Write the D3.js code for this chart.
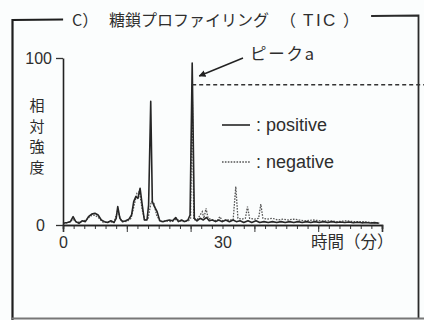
<!DOCTYPE html>
<html>
<head>
<meta charset="utf-8">
<script src="https://cdn.jsdelivr.net/npm/d3@7"></script>
<style>
  html, body { margin: 0; padding: 0; background: #fbfdfd; }
  svg { display: block; }
  text { fill: #2e2e2e; }
</style>
</head>
<body>
<svg id="chart" width="424" height="320"></svg>
<script>
// Total ion chromatogram of released glycans, positive and negative mode.
// Each trace: [retention time (min), relative intensity (%)]
const positiveTrace = [
  [0.0, 1.0], [0.8, 1.5], [1.4, 2.0], [1.9, 5.0], [2.4, 2.0], [3.0, 1.0],
  [3.6, 2.5], [4.2, 2.0], [4.8, 5.0], [5.4, 6.5], [6.0, 7.0], [6.6, 6.0],
  [7.2, 3.0], [7.8, 2.0], [8.4, 1.5], [9.0, 2.5], [9.6, 1.5], [10.0, 4.0],
  [10.3, 11.0], [10.7, 4.0], [11.2, 2.0], [11.8, 2.5], [12.4, 3.5], [12.9, 6.0],
  [13.3, 14.0], [13.7, 17.0], [14.1, 16.0], [14.5, 22.0], [14.9, 12.0],
  [15.3, 3.0], [15.8, 3.0], [16.1, 12.0], [16.5, 74.0], [16.8, 14.0],
  [17.2, 11.0], [17.7, 8.0], [18.2, 2.5], [18.8, 2.0], [19.4, 2.5], [20.0, 3.0],
  [20.6, 2.5], [21.2, 4.5], [21.7, 2.0], [22.3, 3.0], [22.9, 2.0], [23.5, 3.0],
  [23.9, 6.0], [24.3, 97.0], [24.7, 4.0], [25.2, 2.5], [25.8, 4.0], [26.4, 3.0],
  [27.0, 4.5], [27.5, 2.5], [28.1, 3.0], [28.7, 2.0], [29.3, 3.0], [29.9, 2.0],
  [30.6, 3.0], [31.3, 2.0], [32.0, 3.0], [32.6, 2.0], [33.3, 2.5], [34.0, 1.5],
  [34.8, 2.5], [35.5, 1.5], [36.3, 2.5], [37.0, 1.5], [37.8, 2.0], [38.6, 1.5],
  [39.4, 2.0], [40.2, 1.5], [41.0, 2.0], [41.8, 1.5], [42.6, 2.0], [43.4, 1.5],
  [44.2, 2.0], [45.0, 1.5], [45.8, 2.0], [46.6, 1.5], [47.4, 2.0], [48.2, 1.5],
  [49.0, 2.0], [49.8, 1.5], [50.6, 2.0], [51.4, 1.5], [52.2, 1.8], [53.0, 1.5],
  [53.8, 1.8], [54.6, 1.3], [55.4, 1.6], [56.2, 1.3], [57.0, 1.5], [57.8, 1.2],
  [58.6, 1.4], [59.4, 1.0]
];
const negativeTrace = [
  [0.0, 0.8], [1.0, 1.5], [1.9, 3.5], [2.6, 1.5], [3.4, 2.0], [4.4, 3.0],
  [5.2, 5.5], [6.0, 6.0], [6.8, 4.0], [7.6, 1.5], [8.6, 2.0], [9.6, 1.5],
  [10.3, 9.0], [10.9, 2.5], [12.0, 2.0], [12.8, 4.0], [13.4, 12.0], [13.9, 19.0],
  [14.4, 20.0], [14.9, 9.0], [15.4, 2.5], [16.0, 4.0], [16.6, 14.0], [17.1, 13.0],
  [17.6, 6.0], [18.3, 2.0], [19.3, 2.5], [20.4, 2.0], [21.3, 3.5], [22.4, 2.0],
  [23.6, 2.5], [24.0, 4.0], [24.3, 84.0], [24.6, 3.0], [25.3, 3.5], [25.8, 6.0],
  [26.2, 8.0], [26.5, 4.0], [26.9, 10.0], [27.3, 4.0], [28.2, 3.0], [29.0, 2.5],
  [29.5, 5.0], [30.0, 2.5], [31.0, 3.0], [32.0, 3.0], [32.5, 23.0], [32.9, 4.0],
  [33.6, 3.5], [34.3, 4.0], [34.7, 11.0], [35.1, 4.0], [36.0, 3.5], [36.8, 4.0],
  [37.2, 12.5], [37.6, 4.0], [38.4, 3.5], [39.4, 4.0], [40.4, 3.0], [41.4, 3.5],
  [42.4, 3.0], [43.4, 3.5], [44.4, 3.0], [45.6, 2.5], [47.0, 3.0], [48.4, 2.5],
  [50.0, 2.5], [51.6, 2.0], [53.2, 2.5], [54.8, 2.0], [56.4, 2.0], [58.0, 1.5],
  [59.6, 1.2]
];
// Off-scale guide for the negative-mode level of the labelled peak
const negGuide = [[24.3, 84], [68.0, 84]];

const xMajorTicks = [0, 12, 24, 36, 48, 60];
const xMinorTicks = d3.range(0, 61, 2);
const xLabelTicks = [0, 30];
const yTicks = [0, 100];

const titleParts = ["C）", "糖鎖プロファイリング", "（", "TIC", "）"];
const xAxisTitle = "時間（分）";
const yAxisTitle = ["相", "対", "強", "度"];
const peakLabel = "ピークa";
const peakTime = 24.3, peakValue = 97;
const legendItems = [
  { label: ": positive", style: "solid" },
  { label: ": negative", style: "dotted" }
];

const latin = "'Liberation Sans', Arial, Helvetica, sans-serif";
const cjk = "'Noto Sans CJK JP', 'Noto Sans CJK SC', sans-serif";

const svg = d3.select("#chart");
const x = d3.scaleLinear().domain([0, 60]).range([63, 382]);
const y = d3.scaleLinear().domain([0, 100]).range([225, 58]);

// Outer frame broken by the panel title
const frame = svg.append("g").attr("fill", "none").attr("stroke-linecap", "square");
frame.append("path").attr("d", "M12.5,320 L12.5,20 L62,19.5").attr("stroke", "#1e1e1e").attr("stroke-width", 2.2);
frame.append("path").attr("d", "M372,16 L418.5,15.5 L418.5,318").attr("stroke", "#2a2a2a").attr("stroke-width", 1.8);
frame.append("path").attr("d", "M12,318.5 L424,318.5").attr("stroke", "#777").attr("stroke-width", 2);

// Panel title, set in runs with the spacing of the printed heading
const title = svg.append("text")
  .attr("y", 26)
  .style("font-family", cjk).style("font-size", "16px");
const titleRuns = [
  { x: 72, spacing: 0 },
  { x: 109, spacing: 0 },
  { x: 280, spacing: 0 },
  { x: 303, spacing: 2.5, family: latin, size: "17px" },
  { x: 343, spacing: 0 }
];
titleParts.forEach((part, i) => {
  const run = titleRuns[i];
  const ts = title.append("tspan").attr("x", run.x).style("letter-spacing", run.spacing + "px").text(part);
  if (run.family) ts.style("font-family", run.family).style("font-size", run.size);
});

// Axes
const xAxisG = svg.append("g").attr("transform", `translate(0,${y(0)})`);
xAxisG.append("g").call(d3.axisBottom(x).tickValues(xMinorTicks).tickSize(4).tickFormat(""));
xAxisG.append("g").call(d3.axisBottom(x).tickValues(xMajorTicks).tickSize(7).tickFormat(""));
xAxisG.append("g").call(d3.axisBottom(x).tickValues(xLabelTicks).tickSize(0).tickPadding(12).tickFormat(d3.format("d")))
  .call(g => g.select(".domain").remove());
xAxisG.selectAll("path.domain").attr("stroke", "#222").attr("stroke-width", 1.6);
xAxisG.selectAll(".tick line").attr("stroke", "#333").attr("stroke-width", 1);
xAxisG.selectAll("text").style("font-family", latin).style("font-size", "16px").attr("fill", "#2e2e2e");

const yAxisG = svg.append("g").attr("transform", `translate(${x(0)},0)`);
yAxisG.call(d3.axisLeft(y).tickValues(yTicks).tickSize(7).tickPadding(4).tickSizeOuter(0).tickFormat(d3.format("d")));
yAxisG.select(".domain").attr("stroke", "#222").attr("stroke-width", 1.6);
yAxisG.selectAll(".tick line").attr("stroke", "#333").attr("stroke-width", 1.3);
yAxisG.selectAll("text").style("font-family", latin).style("font-size", "16px").attr("fill", "#2e2e2e")
  .attr("dx", d => d === 0 ? -7 : 0);

svg.append("text")
  .attr("x", 311).attr("y", 248)
  .style("font-family", cjk).style("font-size", "16.5px")
  .text(xAxisTitle);

svg.append("g").selectAll("text").data(yAxisTitle).join("text")
  .attr("x", 37).attr("y", (d, i) => 111 + i * 20.5)
  .attr("text-anchor", "middle")
  .style("font-family", cjk).style("font-size", "15px")
  .text(d => d);

// Traces
const line = d3.line().x(d => x(d[0])).y(d => y(d[1]));
svg.append("path").datum(negativeTrace)
  .attr("d", line).attr("fill", "none")
  .attr("stroke", "#555").attr("stroke-width", 1.3).attr("stroke-dasharray", "1.6,1.3");
svg.append("path").datum(positiveTrace)
  .attr("d", line).attr("fill", "none")
  .attr("stroke", "#262626").attr("stroke-width", 1.6).attr("stroke-linejoin", "round");
svg.append("path").datum(negGuide)
  .attr("d", line).attr("fill", "none")
  .attr("stroke", "#333").attr("stroke-width", 1.4).attr("stroke-dasharray", "4,3");

// Peak annotation
const tipX = x(peakTime) + 7, tipY = y(peakValue) + 13;
svg.append("defs").append("marker")
  .attr("id", "arrowhead").attr("viewBox", "0 0 10 10")
  .attr("refX", 9).attr("refY", 5).attr("markerWidth", 7).attr("markerHeight", 7)
  .attr("orient", "auto-start-reverse").attr("markerUnits", "userSpaceOnUse")
  .append("path").attr("d", "M0,0 L10,5 L0,10 z").attr("fill", "#222");
svg.append("line")
  .attr("x1", 243).attr("y1", 58).attr("x2", tipX).attr("y2", tipY)
  .attr("stroke", "#222").attr("stroke-width", 1.4)
  .attr("marker-end", "url(#arrowhead)");
svg.append("text")
  .attr("x", 250).attr("y", 60)
  .attr("textLength", 64).attr("lengthAdjust", "spacing")
  .style("font-family", cjk).style("font-size", "16.5px")
  .text(peakLabel);

// Legend
const legend = svg.append("g").selectAll("g").data(legendItems).join("g")
  .attr("transform", (d, i) => `translate(222,${125 + i * 37})`);
legend.append("line")
  .attr("x1", 0).attr("x2", 28).attr("y1", 0).attr("y2", 0)
  .attr("stroke", d => d.style === "solid" ? "#262626" : "#555")
  .attr("stroke-width", d => d.style === "solid" ? 1.6 : 1.3)
  .attr("stroke-dasharray", d => d.style === "solid" ? null : "1.6,1.3");
legend.append("text")
  .attr("x", 34).attr("y", 6)
  .style("font-family", latin).style("font-size", "18px")
  .text(d => d.label);
</script>
</body>
</html>
